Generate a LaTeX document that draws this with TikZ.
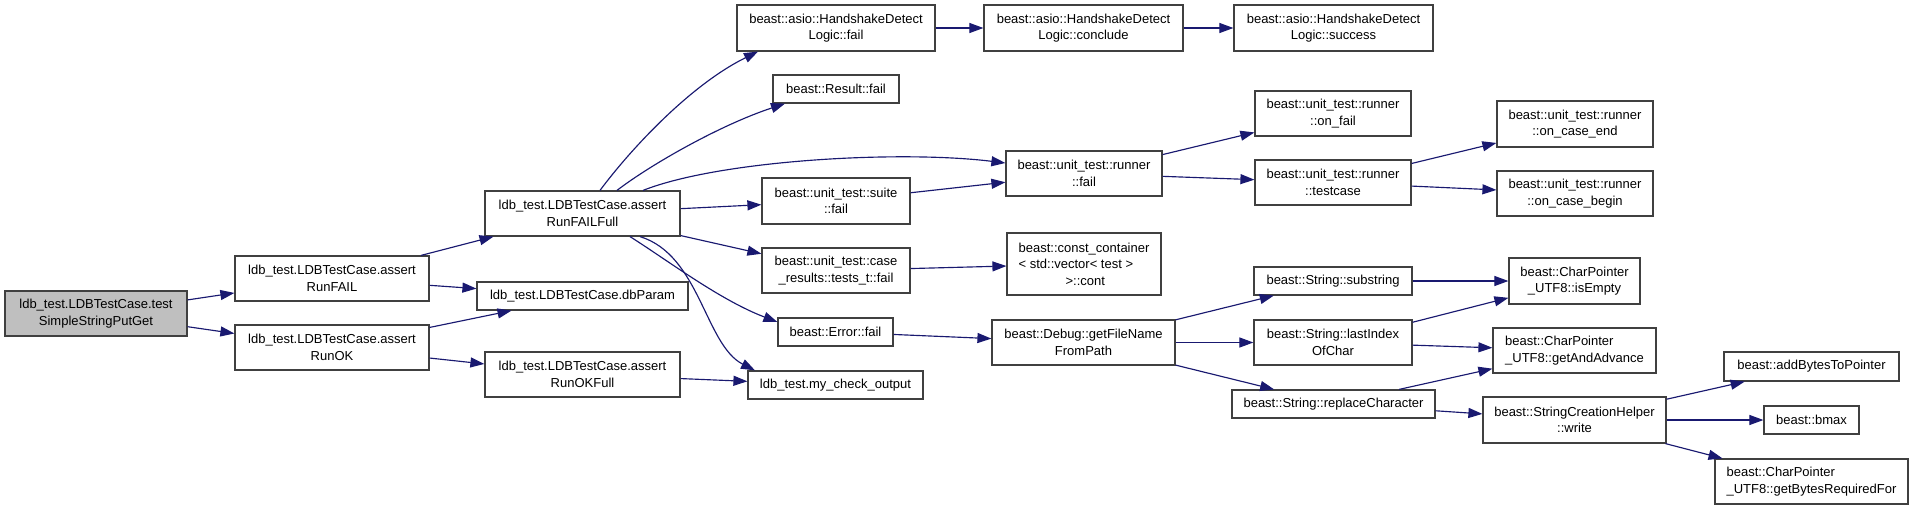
\documentclass[tikz,border=0pt]{standalone}
\usepackage{fontspec}
\setmainfont{Liberation Sans}
\usetikzlibrary{arrows.meta}
\definecolor{edgecol}{HTML}{191970}
\definecolor{boxline}{HTML}{404040}
\definecolor{rootfill}{HTML}{BFBFBF}
\begin{document}
\begin{tikzpicture}[x=1pt,y=-1pt,
  box/.style={draw=boxline,line width=1.2pt,fill=white,inner sep=0pt,align=center,
    font=\fontsize{13}{16.6}\selectfont,text=black},
  leftbox/.style={box,align=left},
  edge/.style={draw=edgecol,line width=1.15pt,-{Triangle[length=14pt,width=10pt]}}]
\useasboundingbox (0,0) rectangle (1915,509);
% nodes
\node[box,fill=rootfill,minimum width=182pt,minimum height=45pt] (test) at (96,313.5) {ldb\_test.LDBTestCase.test\\SimpleStringPutGet};
\node[box,minimum width=194pt,minimum height=45pt] (arf) at (332,278.5) {ldb\_test.LDBTestCase.assert\\RunFAIL};
\node[box,minimum width=194pt,minimum height=45pt] (arok) at (332,347.5) {ldb\_test.LDBTestCase.assert\\RunOK};
\node[box,minimum width=195pt,minimum height=45pt] (arff) at (582.5,213.5) {ldb\_test.LDBTestCase.assert\\RunFAILFull};
\node[box,minimum width=211pt,minimum height=28pt] (dbp) at (582.5,296) {ldb\_test.LDBTestCase.dbParam};
\node[box,minimum width=195pt,minimum height=45pt] (arokf) at (582.5,374.5) {ldb\_test.LDBTestCase.assert\\RunOKFull};
\node[box,minimum width=198pt,minimum height=46pt] (hdlf) at (836,28) {beast::asio::HandshakeDetect\\Logic::fail};
\node[box,minimum width=126pt,minimum height=28pt] (rf) at (836,89) {beast::Result::fail};
\node[box,minimum width=148pt,minimum height=46pt] (suf) at (836,201) {beast::unit\_test::suite\\::fail};
\node[box,minimum width=148pt,minimum height=45pt] (crf) at (836,270.5) {beast::unit\_test::case\\\_results::tests\_t::fail};
\node[box,minimum width=115pt,minimum height=28pt] (ef) at (835.5,332) {beast::Error::fail};
\node[box,minimum width=175pt,minimum height=28pt] (mco) at (835.5,385) {ldb\_test.my\_check\_output};
\node[box,minimum width=199pt,minimum height=46pt] (hdlc) at (1083.5,28) {beast::asio::HandshakeDetect\\Logic::conclude};
\node[box,minimum width=199pt,minimum height=46pt] (hdls) at (1333.5,28) {beast::asio::HandshakeDetect\\Logic::success};
\node[box,minimum width=156pt,minimum height=45pt] (rnf) at (1084,173.5) {beast::unit\_test::runner\\::fail};
\node[box,minimum width=156pt,minimum height=45pt] (onf) at (1333,113.5) {beast::unit\_test::runner\\::on\_fail};
\node[box,minimum width=156pt,minimum height=45pt] (tc) at (1333,182.5) {beast::unit\_test::runner\\::testcase};
\node[leftbox,minimum width=154pt,minimum height=62pt] (cc) at (1084,264) {beast::const\_container\\< std::vector< test >\\\hspace*{47pt}>::cont};
\node[box,minimum width=183pt,minimum height=45pt] (gfn) at (1083.5,342.5) {beast::Debug::getFileName\\FromPath};
\node[box,minimum width=158pt,minimum height=28pt] (ss) at (1333,281) {beast::String::substring};
\node[box,minimum width=158pt,minimum height=45pt] (lio) at (1333,342.5) {beast::String::lastIndex\\OfChar};
\node[box,minimum width=203pt,minimum height=28pt] (rc) at (1333.5,404) {beast::String::replaceCharacter};
\node[box,minimum width=156pt,minimum height=46pt] (oce) at (1575,124) {beast::unit\_test::runner\\::on\_case\_end};
\node[box,minimum width=156pt,minimum height=45pt] (ocb) at (1575,193.5) {beast::unit\_test::runner\\::on\_case\_begin};
\node[box,minimum width=131pt,minimum height=46pt] (ie) at (1574.5,281) {beast::CharPointer\\\_UTF8::isEmpty};
\node[leftbox,minimum width=163pt,minimum height=45pt] (gaa) at (1574.5,350.5) {beast::CharPointer\\\_UTF8::getAndAdvance};
\node[box,minimum width=183pt,minimum height=46pt] (sch) at (1574.5,420) {beast::StringCreationHelper\\::write};
\node[box,minimum width=175pt,minimum height=29pt] (abp) at (1811.5,366.5) {beast::addBytesToPointer};
\node[box,minimum width=95pt,minimum height=28pt] (bm) at (1811.5,420) {beast::bmax};
\node[leftbox,minimum width=193pt,minimum height=45pt] (gbr) at (1811.5,481.5) {beast::CharPointer\\\_UTF8::getBytesRequiredFor};
% straight edges
\draw[edge] (test) -- (arf);
\draw[edge] (test) -- (arok);
\draw[edge] (arf) -- (arff);
\draw[edge] (arf) -- (dbp);
\draw[edge] (arok) -- (dbp);
\draw[edge] (arok) -- (arokf);
\draw[edge] (arokf) -- (mco);
\draw[edge] (arff) -- (suf);
\draw[edge] (arff) -- (crf);
\draw[edge] (hdlf) -- (hdlc);
\draw[edge] (hdlc) -- (hdls);
\draw[edge] (suf) -- (rnf);
\draw[edge] (rnf) -- (onf);
\draw[edge] (rnf) -- (tc);
\draw[edge] (tc) -- (oce);
\draw[edge] (tc) -- (ocb);
\draw[edge] (crf) -- (cc);
\draw[edge] (ef) -- (gfn);
\draw[edge] (gfn) -- (ss);
\draw[edge] (gfn) -- (lio);
\draw[edge] (gfn) -- (rc);
\draw[edge] (ss) -- (ie);
\draw[edge] (lio) -- (ie);
\draw[edge] (lio) -- (gaa);
\draw[edge] (rc) -- (gaa);
\draw[edge] (rc) -- (sch);
\draw[edge] (sch) -- (abp);
\draw[edge] (sch) -- (bm);
\draw[edge] (sch) -- (gbr);
% curved edges
\draw[edge] ([xshift=17.5pt]arff.north) .. controls (630,150) and (690,85) .. ([xshift=-78pt]hdlf.south);
\draw[edge] ([xshift=34.5pt]arff.north) .. controls (650,165) and (720,125) .. ([xshift=-51pt]rf.south);
\draw[edge] ([xshift=60.5pt]arff.north) .. controls (720,160) and (900,150) .. ([yshift=10.5pt]rnf.west);
\draw[edge] ([xshift=47.5pt]arff.south) .. controls (670,262) and (720,300) .. ([yshift=10pt]ef.west);
\draw[edge] ([xshift=57.5pt]arff.south) .. controls (700,255) and (705,345) .. ([xshift=-80.5pt]mco.north);
\end{tikzpicture}
\end{document}
